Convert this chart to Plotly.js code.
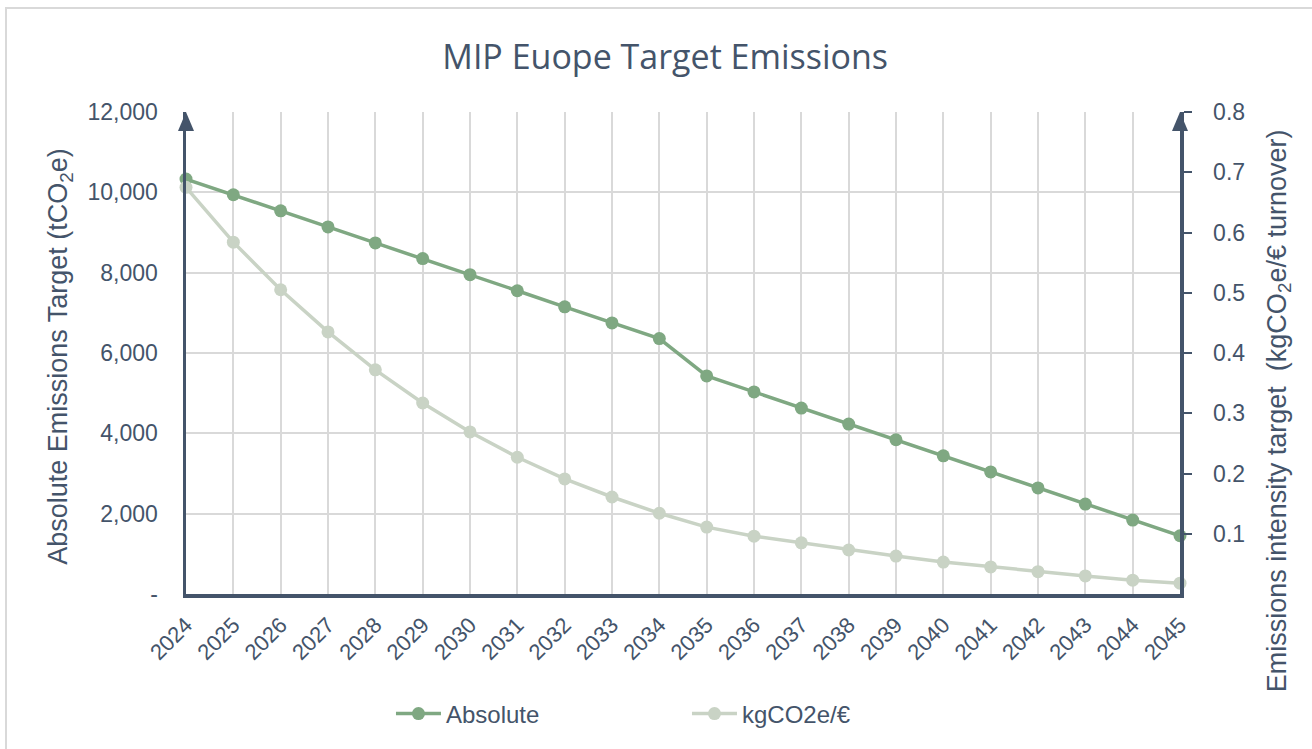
<!DOCTYPE html>
<html>
<head>
<meta charset="utf-8">
<script src="https://cdn.plot.ly/plotly-3.0.1.min.js"></script>
<style>html,body{margin:0;padding:0;background:#fff;}#chart{width:1312px;height:749px;}</style>
</head>
<body>
<div id="chart"></div>
<script>
const years = ["2024","2025","2026","2027","2028","2029","2030","2031","2032","2033","2034","2035","2036","2037","2038","2039","2040","2041","2042","2043","2044","2045"];
const absolute = [10330,9940,9540,9140,8740,8350,7950,7550,7150,6750,6360,5430,5030,4630,4230,3840,3440,3040,2640,2240,1840,1450];
const intensity = [0.675,0.584,0.505,0.435,0.372,0.317,0.269,0.227,0.191,0.161,0.134,0.111,0.096,0.085,0.073,0.063,0.053,0.045,0.037,0.030,0.023,0.018];
const leftTickVals = [0,2000,4000,6000,8000,10000,12000];
const leftTickText = ["-","2,000","4,000","6,000","8,000","10,000","12,000"];
const rightTickVals = [0.1,0.2,0.3,0.4,0.5,0.6,0.7,0.8];
const rightTickText = ["0.1","0.2","0.3","0.4","0.5","0.6","0.7","0.8"];
const leftTitle = "Absolute Emissions Target (tCO<sub>2</sub>e)";
const rightTitle = "Emissions intensity target  (kgCO<sub>2</sub>e/€ turnover)";

const axisColor = "#44546A";
const gridColor = "#D9D9D9";
const sans = "Liberation Sans, Arial, sans-serif";
const tickFont = {family: sans, size: 23, color: axisColor};

const traces = [
  {x: years, y: absolute, name: "Absolute", type: "scatter", mode: "lines+markers",
   line: {color: "#7FA882", width: 3.5}, marker: {color: "#7FA882", size: 13}, yaxis: "y", cliponaxis: false},
  {x: years, y: intensity, name: "kgCO2e/€", type: "scatter", mode: "lines+markers",
   line: {color: "#C9D3C5", width: 3.5}, marker: {color: "#C9D3C5", size: 13}, yaxis: "y2", cliponaxis: false}
];

const layout = {
  width: 1312, height: 749,
  margin: {l: 186, r: 132, t: 112, b: 155},
  paper_bgcolor: "#ffffff", plot_bgcolor: "#ffffff",
  title: {text: "MIP Euope Target Emissions", x: 0.507, xref: "container", xanchor: "center",
          y: 0.924, yref: "container", yanchor: "middle",
          font: {family: "Open Sans, Noto Sans, sans-serif", size: 34, color: axisColor}},
  xaxis: {type: "category", range: [0, 21], showgrid: true, gridcolor: gridColor, gridwidth: 2,
          showline: true, linecolor: axisColor, linewidth: 3.5, zeroline: false,
          tickangle: -45, tickfont: {family: sans, size: 22, color: axisColor},
          ticks: "", ticklabelstandoff: 6, fixedrange: true},
  yaxis: {range: [0, 12000], tickvals: leftTickVals, ticktext: leftTickText, showgrid: true,
          gridcolor: gridColor, gridwidth: 2, zeroline: false, showline: true, linecolor: axisColor,
          linewidth: 3.5, ticks: "", tickfont: tickFont, ticklabelstandoff: 20},
  yaxis2: {range: [0, 0.8], overlaying: "y", side: "right", tickvals: rightTickVals, ticktext: rightTickText,
           showgrid: false, zeroline: false, showline: true, linecolor: axisColor, linewidth: 3.5,
           ticks: "outside", ticklen: 8, tickwidth: 2, tickcolor: axisColor, tickfont: tickFont, ticklabelstandoff: 17},
  legend: {orientation: "h", x: 0.504, xanchor: "center", y: -0.249, yanchor: "middle",
           font: {family: sans, size: 24, color: axisColor}, itemwidth: 45,
           entrywidth: 236, bgcolor: "rgba(0,0,0,0)"},
  showlegend: true,
  annotations: [
    {text: leftTitle, xref: "paper", yref: "paper", x: -0.1268, y: 0.494, xanchor: "center", yanchor: "middle",
     textangle: -90, showarrow: false, font: {family: sans, size: 27, color: axisColor}},
    {text: rightTitle, xref: "paper", yref: "paper", x: 1.0995, y: 0.381, xanchor: "center", yanchor: "middle",
     textangle: -90, showarrow: false, font: {family: sans, size: 27, color: axisColor}}
  ],
  shapes: [
    {type: "rect", xref: "paper", yref: "paper", x0: -0.1811, x1: 1.14, y0: -0.35, y1: 1.2158,
     line: {color: "#D9D9D9", width: 2}, fillcolor: "rgba(0,0,0,0)", layer: "below"},
    {type: "path", xref: "paper", yref: "paper", xsizemode: "pixel", ysizemode: "pixel", xanchor: 0, yanchor: 1,
     path: "M-8,-19 L0,0 L8,-19 Z", fillcolor: axisColor, line: {width: 0}},
    {type: "path", xref: "paper", yref: "paper", xsizemode: "pixel", ysizemode: "pixel", xanchor: 1, yanchor: 1,
     path: "M-8,-19 L0,0 L8,-19 Z", fillcolor: axisColor, line: {width: 0}}
  ]
};

Plotly.newPlot("chart", traces, layout, {displayModeBar: false, staticPlot: true});
</script>
</body>
</html>
